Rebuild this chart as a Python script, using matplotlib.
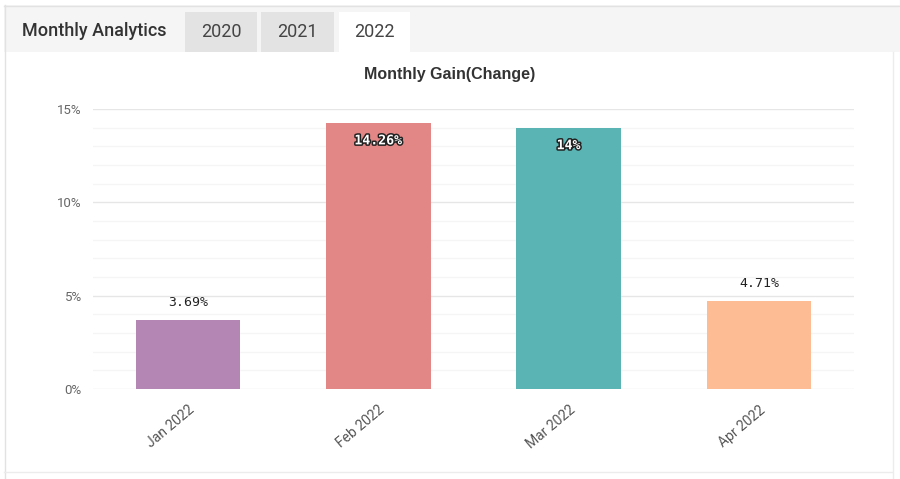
import matplotlib
matplotlib.use("Agg")
import matplotlib.pyplot as plt
from matplotlib.patches import Rectangle
from matplotlib.lines import Line2D
import matplotlib.patheffects as pe
from matplotlib.ticker import MultipleLocator, FuncFormatter

plt.rcParams['font.family'] = ['Roboto', 'DejaVu Sans']

months = ["Jan 2022", "Feb 2022", "Mar 2022", "Apr 2022"]
gains = [3.69, 14.26, 14.0, 4.71]
labels = ["3.69%", "14.26%", "14%", "4.71%"]
inside = [False, True, True, False]
colors = ["#b386b3", "#e28785", "#5ab4b4", "#fdbc94"]
tabs = ["2020", "2021", "2022"]

W, H = 900, 479
fig = plt.figure(figsize=(9, 4.79), dpi=100)

# background / page frame
bg = fig.add_axes([0, 0, 1, 1], zorder=0)
bg.set_xlim(0, W)
bg.set_ylim(H, 0)
bg.axis('off')
bg.add_patch(Rectangle((4, 5), W - 4, 47, facecolor="#f5f5f5", edgecolor="none"))
bg.add_line(Line2D([4, W], [5.5, 5.5], color="#e2e2e2", lw=1))
bg.add_line(Line2D([4.5, 4.5], [5, H], color="#e2e2e2", lw=1))
bg.add_line(Line2D([892.5, 892.5], [52, H], color="#ececec", lw=1))
bg.add_line(Line2D([4, 892], [471.5, 471.5], color="#ececec", lw=1))
bg.text(22, 31, "Monthly Analytics", fontsize=13, fontweight="medium", color="#333333",
        va="center", ha="left")
tab_x = [(185, 257), (261, 334), (339, 410)]
tab_bg = ["#e3e3e3", "#e3e3e3", "#ffffff"]
for (x0, x1), t, c in zip(tab_x, tabs, tab_bg):
    bg.add_patch(Rectangle((x0, 12), x1 - x0, 40, facecolor=c, edgecolor="none"))
    bg.text((x0 + x1) / 2, 31.5, t, fontsize=13, color="#444444", va="center", ha="center")

fig.text(450 / W, 1 - 74.5 / H, "Monthly Gain(Change)", fontsize=11.5, fontweight="bold",
         family=["Liberation Sans", "DejaVu Sans"],
         color="#333333", ha="center", va="center")

# chart axes
ax = fig.add_axes([93 / W, 1 - 389 / H, (854 - 93) / W, (389 - 109) / H], zorder=1)
ax.patch.set_alpha(0)
x = range(len(months))
bars = ax.bar(x, gains, width=0.55, color=colors, zorder=3)
ax.set_xlim(-0.5, len(months) - 0.5)
ax.set_ylim(0, 15)
ax.yaxis.set_major_locator(MultipleLocator(5))
ax.yaxis.set_minor_locator(MultipleLocator(1))
ax.yaxis.set_major_formatter(FuncFormatter(lambda v, p: f"{v:.0f}%"))
ax.grid(axis='y', which='major', color="#e6e6e6", lw=1, zorder=0)
ax.grid(axis='y', which='minor', color="#f5f5f5", lw=1, zorder=0)
for s in ax.spines.values():
    s.set_visible(False)
ax.tick_params(axis='both', which='both', length=0)
ax.tick_params(axis='y', labelsize=9.5, labelcolor="#666666", pad=8)
ax.set_xticks(list(x))
ax.set_xticklabels(months, rotation=40, ha="right", rotation_mode="anchor",
                   fontsize=10, color="#555555")
ax.tick_params(axis='x', pad=10)

for i, (b, v, lab, ins) in enumerate(zip(bars, gains, labels, inside)):
    cx = b.get_x() + b.get_width() / 2
    if ins:
        ax.annotate(lab, (cx, v), xytext=(0, -13), textcoords="offset points",
                    ha="center", va="center", fontsize=9.5, fontweight="bold",
                    family="DejaVu Sans Mono", color="white", zorder=5,
                    path_effects=[pe.withStroke(linewidth=2.2, foreground="#222222")])
    else:
        ax.annotate(lab, (cx, v), xytext=(0, 12.5), textcoords="offset points",
                    ha="center", va="center", fontsize=9.5,
                    family="DejaVu Sans Mono", color="#222222", zorder=5)

fig.savefig("out.png", dpi=100, facecolor="white")
